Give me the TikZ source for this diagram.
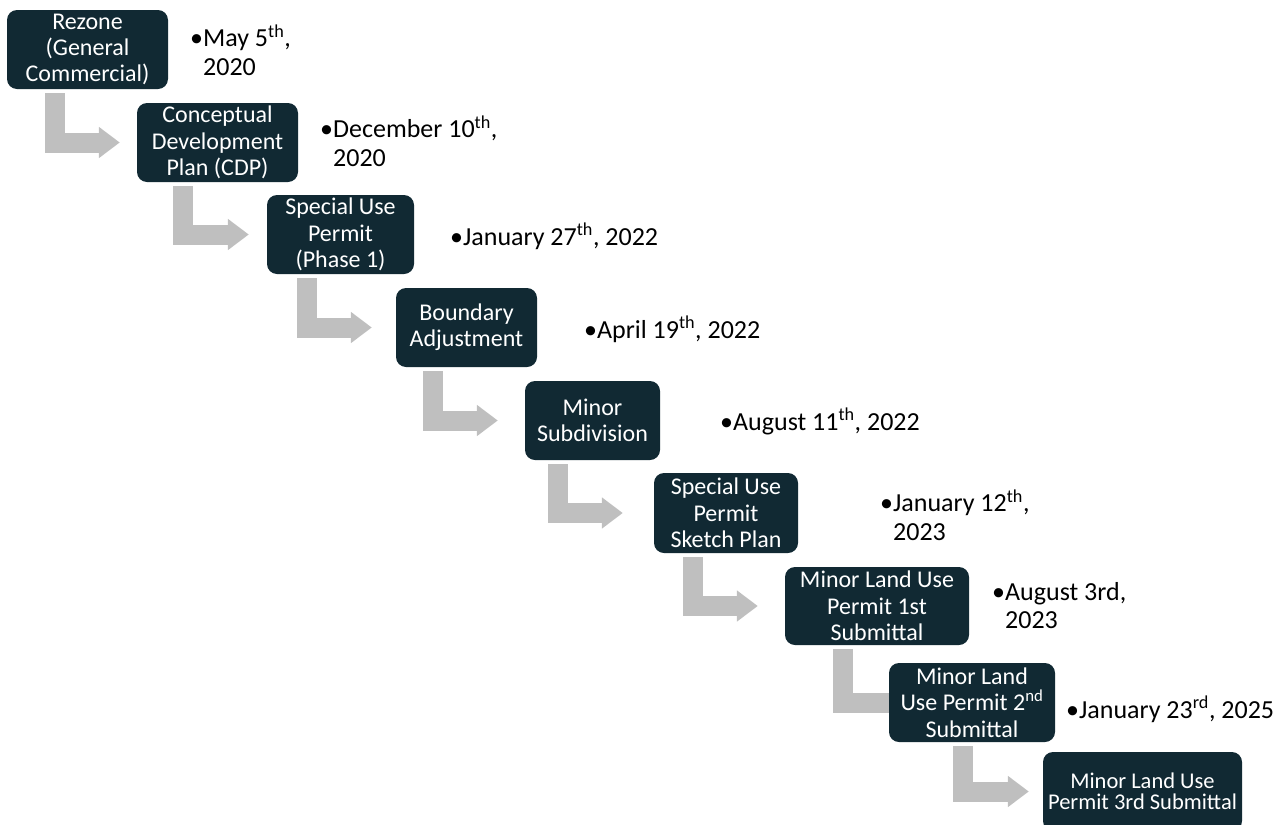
\documentclass[tikz,border=0pt]{standalone}
\usepackage{fontspec}
\setmainfont{Carlito}
\usetikzlibrary{arrows.meta, calc, backgrounds}
\definecolor{stagefill}{RGB}{17,41,51}
\definecolor{flowgrey}{RGB}{191,191,191}

\begin{document}
\begin{tikzpicture}[x=1pt, y=-1pt,
		stage/.style={fill=stagefill, rounded corners=10pt, text=white, align=center, minimum height=79pt, inner sep=0pt, font=\fontsize{24}{26.3}\selectfont},
		datetext/.style={anchor=base west, inner sep=0pt, font=\fontsize{26}{28.5}\selectfont},
		flow/.style={draw=flowgrey, line width=20pt, -{Triangle[length=21pt, width=30pt]}}]
			% Page frame
			\path[use as bounding box] (0,0) rectangle (1278,825);
			\clip (0,0) rectangle (1278,825);
			% Process stages
			\node[stage, minimum width=161pt] (rz) at (87.5,49.5) {Rezone\\(General\\Commercial)};
			\node[stage, minimum width=161pt] (cdp) at (217.5,142.5) {Conceptual\\Development\\Plan (CDP)};
			\node[stage, minimum width=147pt] (sup1) at (340.5,234.5) {Special Use\\Permit\\(Phase 1)};
			\node[stage, minimum width=141pt] (ba) at (466.5,327.5) {Boundary\\Adjustment};
			\node[stage, minimum width=135pt] (ms) at (592.5,420.5) {Minor\\Subdivision};
			\node[stage, minimum width=144pt, minimum height=80pt] (sk) at (726,513) {Special Use\\Permit\\Sketch Plan};
			\node[stage, minimum width=184pt, minimum height=78pt] (m1) at (877,606) {Minor Land Use\\Permit 1st\\Submittal};
			\node[stage, minimum width=166pt] (m2) at (972,702.5) {Minor Land\\Use Permit 2\textsuperscript{nd}\\Submittal};
			\node[stage, minimum width=199pt, font=\fontsize{22.5}{21.5}\selectfont] (m3) at (1142.5,791.5) {Minor Land Use\\Permit 3rd Submittal};
			% Dates
			\node[datetext] (d1) at (190,46.7) {\begin{tabular}[t]{@{}l@{}l@{}}•&May 5\textsuperscript{th},\\&2020\end{tabular}};
			\node[datetext] (d2) at (320,137.7) {\begin{tabular}[t]{@{}l@{}l@{}}•&December 10\textsuperscript{th},\\&2020\end{tabular}};
			\node[datetext] (d3) at (450,245) {•January 27\textsuperscript{th}, 2022};
			\node[datetext] (d4) at (584,338) {•April 19\textsuperscript{th}, 2022};
			\node[datetext] (d5) at (720,430) {•August 11\textsuperscript{th}, 2022};
			\node[datetext] (d6) at (880,511.7) {\begin{tabular}[t]{@{}l@{}l@{}}•&January 12\textsuperscript{th},\\&2023\end{tabular}};
			\node[datetext] (d7) at (992,600) {\begin{tabular}[t]{@{}l@{}l@{}}•&August 3rd,\\&2023\end{tabular}};
			\node[datetext] (d8) at (1066,718) {•January 23\textsuperscript{rd}, 2025};
			% Bent arrows between stages
			\begin{scope}[on background layer]
				\draw[flow] ($(rz.south west)+(48,4)$) |- ([xshift=-17pt]cdp.west);
				\draw[flow] ($(cdp.south west)+(46.5,4)$) |- ([xshift=-18pt]sup1.west);
				\draw[flow] ($(sup1.south west)+(40,4)$) |- ([xshift=-24pt]ba.west);
				\draw[flow] ($(ba.south west)+(37,4)$) |- ([xshift=-27pt]ms.west);
				\draw[flow] ($(ms.south west)+(33,4)$) |- ([xshift=-31pt]sk.west);
				\draw[flow] ($(sk.south west)+(39,4)$) |- ([xshift=-27pt]m1.west);
				\draw[flow] ($(m1.south west)+(58,4)$) |- ([xshift=25pt]m2.west);
				\draw[flow] ($(m2.south west)+(74,4)$) |- ([xshift=-14pt]m3.west);
			\end{scope}
		\end{tikzpicture}
\end{document}
